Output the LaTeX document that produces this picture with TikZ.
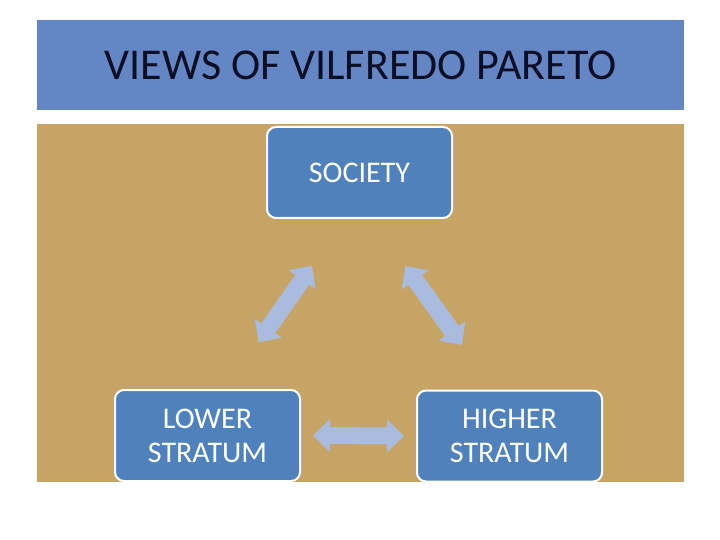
\documentclass[tikz,border=0pt]{standalone}
\usepackage{fontspec}
\setmainfont{Carlito}
\usetikzlibrary{arrows.meta, positioning, calc}
\definecolor{bandblue}{HTML}{6586C4}
\definecolor{sandtan}{HTML}{C6A466}
\definecolor{boxblue}{HTML}{4F81BD}
\definecolor{arrowblue}{HTML}{A9BCDF}
\definecolor{titleink}{HTML}{0B0F26}

\begin{document}
\begin{tikzpicture}[x=1pt,y=-1pt,
    box node/.style={rectangle,rounded corners=9pt,draw=white,line width=2pt,
      fill=boxblue,text=white,minimum width=185pt,minimum height=91pt,
      inner sep=0pt,align=center,font=\fontsize{30}{34}\selectfont},
    block arrow/.style={draw=arrowblue,line width=17pt,
      {Triangle[width=32pt,length=17pt]}-{Triangle[width=32pt,length=17pt]}}]

  \useasboundingbox[fill=white] (0,0) rectangle (720,540);
  % backgrounds
  \fill[bandblue] (37,20) rectangle (684,110);
  \fill[sandtan] (37,124) rectangle (684,482);
  \node[text=titleink,font=\fontsize{44}{48}\selectfont,inner sep=0pt] (title) at (360.5,65.5) {VIEWS OF VILFREDO PARETO};

  \node[box node] (society) at (359.5,172.5) {SOCIETY};
  \node[box node] (lower) at (207.5,435.5) {LOWER\\STRATUM};
  \node[box node] (higher) at (509.5,436) {HIGHER\\STRATUM};

  % connectors
  \draw[block arrow,shorten <=57pt,shorten >=57pt] ($(society.south)+(-15,0)$) -- ($(lower.north)+(18.5,0)$);
  \draw[block arrow,shorten <=58pt,shorten >=55pt] ($(society.south)+(12,0)$) -- ($(higher.north)+(-15.5,0)$);
  \draw[block arrow,shorten <=12pt,shorten >=12pt] (lower.east) -- (higher.west);
\end{tikzpicture}
\end{document}
